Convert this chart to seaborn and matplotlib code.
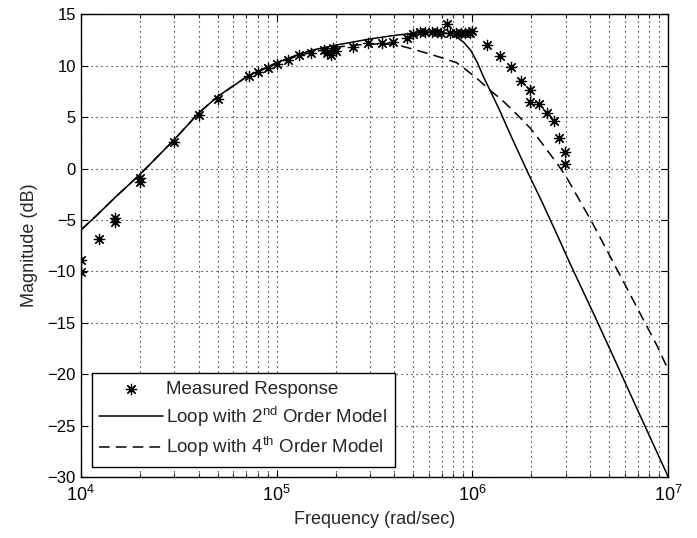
import matplotlib
matplotlib.use("Agg")
import matplotlib.pyplot as plt
import matplotlib.ticker as mticker
import seaborn as sns
import pandas as pd

# measured points (rad/sec, dB)
meas_freq = [10e3, 10e3, 12.4e3, 15e3, 15e3, 20e3, 20e3, 30e3, 40e3, 50e3,
             72e3, 80e3, 90e3, 100e3, 115e3, 130e3, 150e3, 175e3, 180e3,
             190e3, 195e3, 200e3, 245e3, 294e3, 344e3, 395e3, 461e3, 500e3,
             540e3, 575e3, 620e3, 656e3, 690e3, 738e3, 770e3, 820e3, 870e3,
             920e3, 975e3, 1.0e6, 1.19e6, 1.39e6, 1.57e6, 1.77e6, 1.96e6,
             1.96e6, 2.18e6, 2.39e6, 2.6e6, 2.76e6, 2.98e6, 2.98e6]
meas_db = [-8.9, -10.1, -6.9, -4.8, -5.2, -0.9, -1.3, 2.6, 5.2, 6.8,
           9.0, 9.4, 9.8, 10.2, 10.6, 11.0, 11.2, 11.5, 11.2,
           11.0, 11.7, 11.4, 11.85, 12.2, 12.2, 12.35, 12.65, 13.1,
           13.3, 13.3, 13.3, 13.25, 13.2, 14.1, 13.2, 13.2, 13.2,
           13.2, 13.2, 13.35, 12.0, 10.9, 9.85, 8.5, 7.6,
           6.5, 6.3, 5.4, 4.6, 3.0, 1.65, 0.45]

# loop with 2nd order model
sol_freq = [10e3, 12e3, 15e3, 20e3, 30e3, 40e3, 50e3, 70e3, 100e3, 130e3,
            150e3, 200e3, 300e3, 400e3, 520e3, 650e3, 770e3, 830e3, 900e3,
            980e3, 1.06e6, 1.14e6, 1.26e6, 1.39e6, 1.52e6, 1.67e6, 1.93e6,
            2.26e6, 2.7e6, 3.16e6, 4.2e6, 5.1e6, 6.9e6, 10e6]
sol_db = [-6.0, -4.6, -2.8, -0.6, 2.8, 5.4, 7.0, 8.9, 10.3, 11.1,
          11.5, 12.0, 12.6, 12.95, 13.2, 13.3, 13.1, 12.8, 12.3,
          11.5, 10.3, 8.9, 7.2, 5.5, 3.8, 2.1, -0.5,
          -3.2, -6.4, -9.3, -14.3, -17.8, -23.3, -30.0]

# loop with 4th order model
dash_freq = [10e3, 12e3, 15e3, 20e3, 30e3, 40e3, 50e3, 70e3, 100e3, 130e3,
             150e3, 200e3, 250e3, 300e3, 400e3, 500e3, 590e3, 690e3, 830e3,
             900e3, 1.05e6, 1.23e6, 1.39e6, 1.62e6, 1.98e6, 2.3e6, 2.75e6,
             3.03e6, 3.65e6, 4.1e6, 4.66e6, 5.9e6, 6.7e6, 7.8e6, 8.8e6, 10e6]
dash_db = [-6.0, -4.6, -2.8, -0.6, 2.8, 5.4, 7.0, 8.9, 10.2, 11.0,
           11.3, 11.8, 12.0, 12.1, 12.1, 11.6, 11.2, 10.8, 10.3,
           9.8, 8.8, 7.6, 6.8, 5.6, 3.9, 2.3, 0.3,
           -0.9, -3.6, -5.3, -7.3, -11.0, -13.0, -15.4, -17.3, -19.6]

sns.set_theme(style="ticks", rc={
    "xtick.direction": "in", "ytick.direction": "in",
    "xtick.top": True, "ytick.right": True,
    "axes.edgecolor": "black", "axes.linewidth": 1.0,
})
plt.rcParams["font.family"] = ["Liberation Sans", "DejaVu Sans"]
plt.rcParams["mathtext.default"] = "regular"

meas = pd.DataFrame({"freq": meas_freq, "db": meas_db})
sol = pd.DataFrame({"freq": sol_freq, "db": sol_db})
dash = pd.DataFrame({"freq": dash_freq, "db": dash_db})

fig = plt.figure(figsize=(6.97, 5.38), dpi=100)
ax = fig.add_axes([0.1158, 0.1134, 0.9588 - 0.1158, 0.9734 - 0.1134])
ax.set_xscale("log")

sns.scatterplot(data=meas, x="freq", y="db", marker=(8, 2, 0), s=55,
                color="black", edgecolor="black", linewidth=0.9,
                label="Measured Response", ax=ax, zorder=3)
sns.lineplot(data=sol, x="freq", y="db", sort=False, estimator=None,
             color="black", linewidth=1.1,
             label="Loop with 2$^{nd}$ Order Model", ax=ax)
sns.lineplot(data=dash, x="freq", y="db", sort=False, estimator=None,
             color="black", linewidth=1.1, dashes=False,
             label="Loop with 4$^{th}$ Order Model", ax=ax)
ax.lines[-1].set_dashes((7, 4))

ax.set_xlim(1e4, 1e7)
ax.set_ylim(-30, 15)
ax.set_yticks(range(-30, 16, 5))
ax.xaxis.set_major_locator(mticker.LogLocator(base=10, numticks=10))
ax.xaxis.set_minor_locator(mticker.LogLocator(base=10, subs=range(2, 10), numticks=20))
ax.xaxis.set_minor_formatter(mticker.NullFormatter())
ax.tick_params(which="major", length=5, width=0.8, labelsize=12, colors="black")
ax.tick_params(axis="x", which="major", labelsize=13, pad=6)
ax.tick_params(which="minor", length=3, width=0.8)
ax.grid(True, which="both", color="black", linestyle=(0, (1, 3.5)), linewidth=0.8)

ax.set_xlabel("Frequency (rad/sec)", fontsize=13, labelpad=4)
ax.set_ylabel("Magnitude (dB)", fontsize=13, labelpad=7)

leg = ax.legend(loc="lower left", bbox_to_anchor=(0.019, 0.022), borderaxespad=0,
                fontsize=13.5, fancybox=False, framealpha=1, edgecolor="black",
                handlelength=3.4, handletextpad=0.15, labelspacing=0.35,
                borderpad=0.4, scatterpoints=1)
leg.get_frame().set_linewidth(1.0)
leg.set_zorder(5)

fig.savefig("out.png", dpi=100)
